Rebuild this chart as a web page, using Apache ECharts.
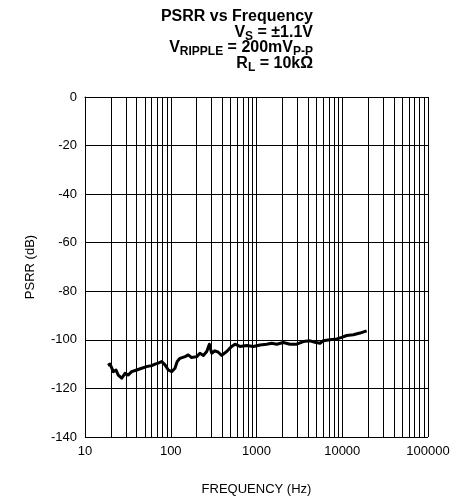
<!DOCTYPE html>
<html><head><meta charset="utf-8">
<script src="https://cdn.jsdelivr.net/npm/echarts@6/dist/echarts.min.js"></script>
<style>html,body{margin:0;padding:0;background:#fff}#c{width:464px;height:502px}</style>
</head><body><div id="c"></div>
<script>
const freqHz = [18.5,19.6,21.4,23.0,24.4,26.8,29.3,32.0,35.0,40.1,45.8,52.4,60.0,65.5,71.6,78.4,85.7,93.6,102.5,112,119,128,147,160,175,201,219,240,263,282,300,328,358,393,449,514,561,642,769,919,1099,1315,1503,1722,2054,2460,2944,3515,4209,4813,5502,6015,7197,8613,9857,11280,13460,16100,19270];
const psrrDb = [-110.5,-110.0,-113.1,-112.4,-114.5,-115.8,-113.8,-114.5,-113.1,-112.4,-111.7,-111.0,-110.6,-110.0,-109.6,-108.9,-110.3,-112.4,-113.1,-111.7,-108.9,-107.6,-106.9,-106.2,-107.3,-106.9,-105.5,-106.4,-104.8,-101.8,-105.5,-104.5,-105.1,-106.4,-104.8,-102.7,-101.8,-102.7,-102.3,-102.7,-102.1,-101.8,-101.4,-101.8,-101.1,-101.8,-101.8,-100.7,-100.4,-101.0,-101.4,-100.4,-100.0,-99.6,-99.0,-98.2,-97.9,-97.2,-96.3];
const xTickLabels = ['10','100','1000','10000','100000'];
const yTicks = [0,-20,-40,-60,-80,-100,-120,-140];
const minorGrid = [];
for (let d = 10; d < 100000; d *= 10) for (let m = 2; m <= 9; m++) minorGrid.push(d*m);

const chart = echarts.init(document.getElementById('c'));
const F = 'Liberation Sans, Arial, sans-serif';
chart.setOption({
  animation:false,
  title:{
    left:308, top:4, textAlign:'right',
    text:'{b|PSRR vs Frequency}\n{b|V}{s|S}{b| = ±1.1V}\n{b|V}{s|RIPPLE}{b| = 200mV}{s|P-P}\n{b|R}{s|L}{b| = 10kΩ}',
    textStyle:{
      align:'right',
      rich:{
        b:{fontFamily:F,fontWeight:'bold',fontSize:16,lineHeight:15.5,color:'#000'},
        s:{fontFamily:F,fontWeight:'bold',fontSize:12,lineHeight:6,padding:[8.5,0,0,0],color:'#000'}
      }
    }
  },
  grid:{left:85,right:36,top:97,bottom:65},
  xAxis:{
    type:'log', min:10, max:100000, logBase:10,
    name:'FREQUENCY (Hz)', nameLocation:'middle', nameGap:46,
    nameTextStyle:{fontFamily:F,fontSize:13,color:'#000'},
    axisLine:{lineStyle:{color:'#000',width:1}},
    axisTick:{show:false},
    axisLabel:{fontFamily:F,fontSize:13,color:'#000',margin:8,formatter:v=>xTickLabels[Math.round(Math.log10(v))-1]},
    splitLine:{show:true,lineStyle:{color:'#000',width:1}}
  },
  yAxis:{
    type:'value', min:-140, max:0, interval:20,
    name:'PSRR (dB)', nameLocation:'middle', nameGap:48, nameRotate:90,
    nameTextStyle:{fontFamily:F,fontSize:13,color:'#000'},
    axisLine:{show:true,lineStyle:{color:'#000',width:1}},
    axisTick:{show:false},
    axisLabel:{fontFamily:F,fontSize:13,color:'#000',margin:8,formatter:v=>yTicks.includes(v)?String(v):''},
    splitLine:{show:true,lineStyle:{color:'#000',width:1}}
  },
  series:[
    {type:'line',data:[],silent:true,
     markLine:{silent:true,symbol:'none',label:{show:false},animation:false,
       lineStyle:{color:'#000',width:1,type:'solid'},
       data:minorGrid.map(v=>({xAxis:v}))}},
    {type:'line',data:freqHz.map((f,i)=>[f,psrrDb[i]]),showSymbol:false,
     lineStyle:{color:'#000',width:3,join:'round'},itemStyle:{color:'#000'}}
  ]
});
</script></body></html>
